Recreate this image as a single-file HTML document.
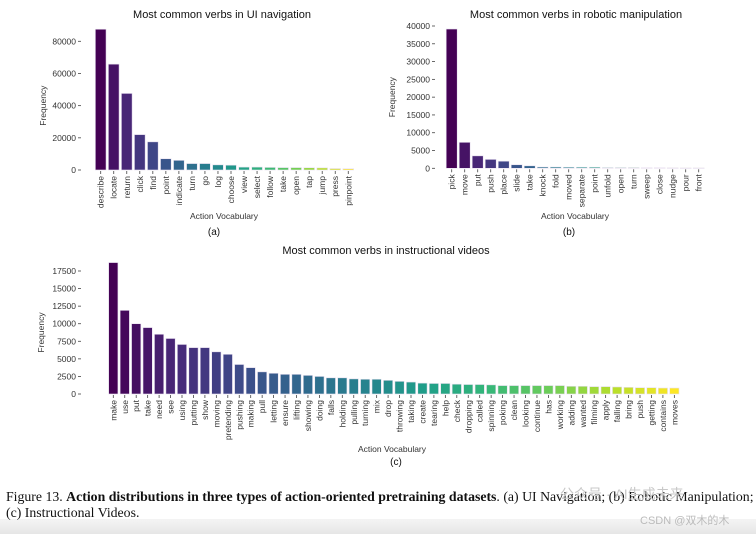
<!DOCTYPE html>
<html><head><meta charset="utf-8">
<style>
body{margin:0;width:756px;height:534px;background:#fff;overflow:hidden;position:relative;font-family:"Liberation Sans",sans-serif}
svg{position:absolute;left:0;top:0}
.cap{position:absolute;left:6px;top:489px;font-family:"Liberation Serif",serif;font-size:13.8px;line-height:16px;color:#111;width:752px;white-space:nowrap}
.band{position:absolute;left:0;top:519px;width:756px;height:15px;background:linear-gradient(#f4f4f4,#e6e6e6)}
.wm{position:absolute;font-family:"Liberation Sans","Noto Sans CJK SC",sans-serif;color:#c8c8c8}
</style></head><body>
<svg id="chart" width="756" height="534" viewBox="0 0 756 534"></svg>
<div class="band"></div>
<div class="cap">Figure 13. <b>Action distributions in three types of action-oriented pretraining datasets</b>. (a) UI Navigation; (b) Robotic Manipulation;<br>(c) Instructional Videos.</div>
<div class="wm" style="left:560px;top:484px;font-size:14px">公众号 · AI生成未来</div>
<div class="wm" style="left:640px;top:512px;font-size:11px;color:#bbb">CSDN @双木的木</div>
<script>
const uiCats=["describe","locate","return","click","find","point","indicate","turn","go","log","choose","view","select","follow","take","open","tap","jump","press","pinpoint"];
const uiVals=[87500,65800,47600,22000,17500,7000,6000,4000,4000,3200,3000,1800,1800,1600,1500,1500,1400,1300,900,800];
const uiTicks=[0,20000,40000,60000,80000];
const roCats=["pick","move","put","push","place","slide","take","knock","fold","moved","separate","point","unfold","open","turn","sweep","close","nudge","pour","front"];
const roVals=[39150,7300,3500,2500,2000,1000,700,350,350,300,300,300,200,200,200,150,150,120,100,100];
const roTicks=[0,5000,10000,15000,20000,25000,30000,35000,40000];
const viCats=["make","use","put","take","need","see","using","putting","show","moving","pretending","pushing","making","pull","letting","ensure","lifting","showing","doing","falls","holding","pulling","turning","mix","drop","throwing","taking","create","tearing","help","check","dropping","called","spinning","poking","clean","looking","continue","has","working","adding","wanted","filming","apply","falling","bring","push","getting","contains","moves"];
const viVals=[18700,11900,10000,9450,8500,7900,7050,6600,6600,6000,5650,4200,3750,3150,2950,2800,2800,2650,2500,2300,2300,2150,2100,2100,1950,1800,1700,1550,1500,1500,1400,1350,1350,1300,1200,1200,1200,1200,1200,1200,1100,1100,1050,1050,1000,950,900,900,850,850];
const viTicks=[0,2500,5000,7500,10000,12500,15000,17500];

const NS="http://www.w3.org/2000/svg";
const svg=document.getElementById('chart');
const stops=[[68,1,84],[72,40,120],[62,74,137],[49,104,142],[38,130,142],[31,158,137],[53,183,121],[109,205,89],[180,222,44],[253,231,37]];
function viridis(t){const p=t*(stops.length-1);const i=Math.min(Math.floor(p),stops.length-2);const f=p-i;const a=stops[i],b=stops[i+1];return `rgb(${a.map((v,k)=>Math.round(v+(b[k]-v)*f)).join(',')})`;}
function mk(tag,attrs,parent){const e=document.createElementNS(NS,tag);for(const k in attrs)e.setAttribute(k,attrs[k]);(parent||svg).appendChild(e);return e;}
function draw(cfg){
  const g=mk('g',{});
  
  
  const y=v=>cfg.y0-(v-0)/cfg.ymax*(cfg.y0-cfg.yTop);
  const x=i=>cfg.x0+i*cfg.pitch;
  const t=mk('text',{x:cfg.titleX,y:cfg.titleY,'font-size':11,'text-anchor':'middle',fill:'#111'},g);t.textContent=cfg.title;
  
  
  cfg.ticks.forEach(v=>{
    const ty=y(v);
    mk('line',{x1:cfg.tickX,x2:cfg.tickX+3,y1:ty,y2:ty,stroke:'#444','stroke-width':0.8},g);
    const l=mk('text',{x:cfg.tickX-2,y:ty+3,'font-size':8.5,'text-anchor':'end',fill:'#333'},g);l.textContent=v;
    
    
  });
  const yl=mk('text',{x:0,y:0,'font-size':8.5,'text-anchor':'middle',fill:'#333',transform:`translate(${cfg.ylabX},${(cfg.y0+cfg.yTop)/2}) rotate(-90)`},g);yl.textContent='Frequency';
  
  
  const n=cfg.cats.length;
  cfg.cats.forEach((c,i)=>{
    const cx=x(i),top=y(cfg.vals[i]);
    const r=mk('rect',{x:cx-cfg.bw/2,y:top,width:cfg.bw,height:Math.max(cfg.y0-top,0.5),fill:viridis(i/(n-1)),stroke:'#e8e0f0','stroke-width':0.6},g);
    
    
    mk('line',{x1:cx,x2:cx,y1:cfg.y0+1,y2:cfg.y0+4,stroke:'#444','stroke-width':0.8},g);
    const l=mk('text',{x:0,y:0,'font-size':8.5,'text-anchor':'end',fill:'#333',transform:`translate(${cx+3},${cfg.y0+6}) rotate(-90)`},g);l.textContent=c;
    
    
  });
  const xl=mk('text',{x:cfg.xlabX,y:cfg.xlabY,'font-size':8.5,'text-anchor':'middle',fill:'#333'},g);xl.textContent='Action Vocabulary';
  
  
  const sl=mk('text',{x:cfg.subX,y:cfg.subY,'font-size':10,'text-anchor':'middle',fill:'#111'},g);sl.textContent=cfg.sub;
  
  
}
draw({name:'chart-ui-navigation',title:'Most common verbs in UI navigation',titleX:222,titleY:18,cats:uiCats,vals:uiVals,ticks:uiTicks,ymax:80000,y0:170,yTop:41.3,x0:100.7,pitch:13.03,bw:10.7,tickX:78,ylabX:46,xlabX:224,xlabY:219,sub:'(a)',subX:214,subY:235});
draw({name:'chart-robotic-manipulation',title:'Most common verbs in robotic manipulation',titleX:576,titleY:18,cats:roCats,vals:roVals,ticks:roTicks,ymax:40000,y0:168.3,yTop:26,x0:451.7,pitch:13.0,bw:11,tickX:432,ylabX:395,xlabX:575,xlabY:219,sub:'(b)',subX:569,subY:235});
draw({name:'chart-instructional-videos',title:'Most common verbs in instructional videos',titleX:386,titleY:254,cats:viCats,vals:viVals,ticks:viTicks,ymax:17500,y0:394,yTop:271,x0:113.3,pitch:11.45,bw:9.3,tickX:78,ylabX:44,xlabX:392,xlabY:452,sub:'(c)',subX:396,subY:465});
</script>
</body></html>
